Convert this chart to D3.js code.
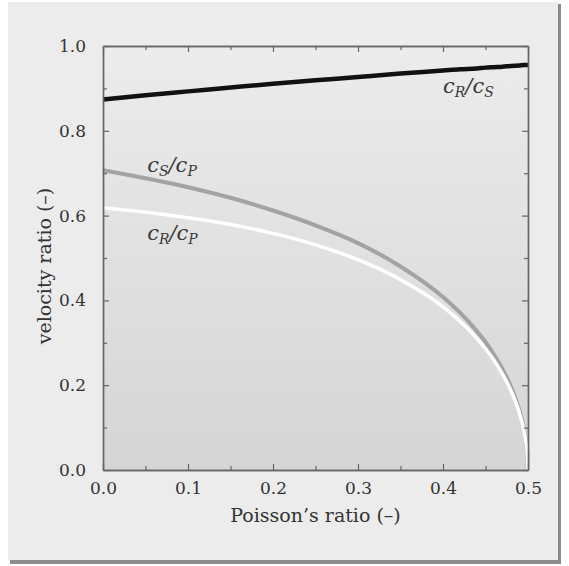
<!DOCTYPE html>
<html>
<head>
<meta charset="utf-8">
<script src="https://cdn.jsdelivr.net/npm/d3@7"></script>
<style>
  body { margin: 0; background: #ffffff; }
  svg { display: block; }
  .tick text { font-family: "DejaVu Serif", serif; font-size: 17px; fill: #333; }
  .axis path, .axis line { stroke: #666; }
  .axis-title { font-family: "DejaVu Serif", serif; font-size: 19px; fill: #333; }
  .series-label { font-family: "DejaVu Serif", serif; font-style: italic; font-size: 21px; fill: #3a3a3a; }
</style>
</head>
<body>
<svg id="chart" width="569" height="566"></svg>
<script>
// Poisson's ratio samples and velocity ratios
const nu   = [0, 0.05, 0.1, 0.15, 0.2, 0.25, 0.3, 0.35, 0.4, 0.42, 0.44, 0.45, 0.46, 0.47, 0.48, 0.49, 0.495, 0.498, 0.499, 0.5];
const cRcS = [0.874, 0.884, 0.893, 0.902, 0.911, 0.919, 0.927, 0.935, 0.942, 0.945, 0.947, 0.949, 0.950, 0.951, 0.953, 0.954, 0.955, 0.955, 0.955, 0.955];
const cScP = [0.707, 0.688, 0.667, 0.642, 0.612, 0.577, 0.535, 0.480, 0.408, 0.371, 0.327, 0.302, 0.272, 0.238, 0.196, 0.140, 0.100, 0.063, 0.045, 0];
const cRcP = [0.618, 0.608, 0.595, 0.579, 0.558, 0.531, 0.496, 0.449, 0.385, 0.351, 0.310, 0.286, 0.259, 0.226, 0.187, 0.134, 0.095, 0.060, 0.043, 0];

const xMajor = [0, 0.1, 0.2, 0.3, 0.4, 0.5];
const xMinor = [0.05, 0.15, 0.25, 0.35, 0.45];
const yMajor = [0, 0.2, 0.4, 0.6, 0.8, 1.0];
const yMinor = [0.1, 0.3, 0.5, 0.7, 0.9];

const seriesLabels = [
  {c1: "R", c2: "S", x: 0.4, y: 0.889},
  {c1: "S", c2: "P", x: 0.052, y: 0.703},
  {c1: "R", c2: "P", x: 0.052, y: 0.542}
];

const W = 569, H = 566;
const margin = {top: 46, right: 41, bottom: 96, left: 103};
const innerW = W - margin.left - margin.right;
const innerH = H - margin.top - margin.bottom;

const svg = d3.select("#chart");

// panel with a soft drop shadow
svg.append("rect").attr("x", 10).attr("y", 4).attr("width", 551).attr("height", 560).attr("fill", "#8c8c8c");
svg.append("rect").attr("x", 8).attr("y", 2).attr("width", 550).attr("height", 558).attr("fill", "#ececec");

const defs = svg.append("defs");
const grad = defs.append("linearGradient").attr("id", "plotbg")
  .attr("x1", 0).attr("y1", 0).attr("x2", 0).attr("y2", 1);
grad.append("stop").attr("offset", "0%").attr("stop-color", "#ececec");
grad.append("stop").attr("offset", "100%").attr("stop-color", "#d5d5d5");

const x = d3.scaleLinear().domain([0, 0.5]).range([0, innerW]);
const y = d3.scaleLinear().domain([0, 1]).range([innerH, 0]);

const g = svg.append("g").attr("transform", `translate(${margin.left},${margin.top})`);

g.append("rect").attr("width", innerW).attr("height", innerH).attr("fill", "url(#plotbg)");

const line = d3.line().curve(d3.curveMonotoneX);
const pts = arr => nu.map((v, i) => [x(v), y(arr[i])]);

g.append("path").attr("d", line(pts(cScP))).attr("fill", "none").attr("stroke", "#a3a3a3").attr("stroke-width", 4);
g.append("path").attr("d", line(pts(cRcP))).attr("fill", "none").attr("stroke", "#ffffff").attr("stroke-width", 3.5);
g.append("path").attr("d", line(pts(cRcS))).attr("fill", "none").attr("stroke", "#111111").attr("stroke-width", 4.5);

// axes: major ticks with labels, minor ticks without, mirrored on top/right
const fmt = d3.format(".1f");
function addAxis(axisFn, scale, vals, size, transform, labels) {
  const a = axisFn(scale).tickValues(vals).tickSizeInner(-size).tickSizeOuter(0).tickPadding(labels ? 17 : 0)
    .tickFormat(labels ? fmt : "");
  const sel = g.append("g").attr("class", "axis").attr("transform", transform).call(a);
  sel.selectAll("line").attr("stroke-width", 1.2);
  sel.select(".domain").attr("stroke-width", 1.4);
  return sel;
}
addAxis(d3.axisBottom, x, xMajor, 6, `translate(0,${innerH})`, true);
addAxis(d3.axisBottom, x, xMinor, 4, `translate(0,${innerH})`, false);
addAxis(d3.axisLeft, y, yMajor, 6, "translate(0,0)", true);
addAxis(d3.axisLeft, y, yMinor, 4, "translate(0,0)", false);
addAxis(d3.axisTop, x, xMajor, 6, "translate(0,0)", false);
addAxis(d3.axisTop, x, xMinor, 4, "translate(0,0)", false);
addAxis(d3.axisRight, y, yMajor, 6, `translate(${innerW},0)`, false);
addAxis(d3.axisRight, y, yMinor, 4, `translate(${innerW},0)`, false);

// x tick labels sit a bit tighter under the axis
g.selectAll(".axis .tick text").filter(function () { return this.getAttribute("dy") === "0.71em"; })
  .attr("y", 11).attr("dy", "0.75em");

g.append("text").attr("class", "axis-title")
  .attr("x", innerW / 2).attr("y", innerH + 52).attr("text-anchor", "middle")
  .text("Poisson\u2019s ratio (\u2013)");
g.append("text").attr("class", "axis-title")
  .attr("transform", `translate(${-52},${innerH / 2 + 8}) rotate(-90)`).attr("text-anchor", "middle")
  .text("velocity ratio (\u2013)");

// series labels c_a / c_b
seriesLabels.forEach(d => {
  const t = g.append("text").attr("class", "series-label").attr("x", x(d.x)).attr("y", y(d.y));
  t.append("tspan").text("c");
  t.append("tspan").attr("font-size", 14).attr("dy", 4).text(d.c1);
  t.append("tspan").attr("dy", -4).text("/c");
  t.append("tspan").attr("font-size", 14).attr("dy", 4).text(d.c2);
});
</script>
</body>
</html>
